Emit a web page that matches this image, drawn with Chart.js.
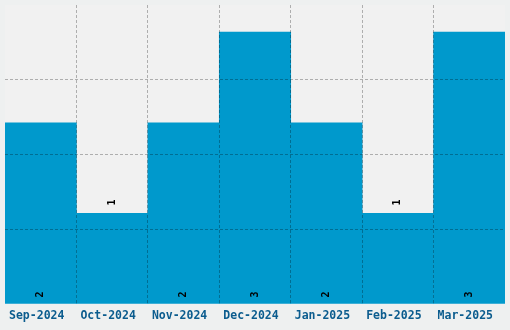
<!DOCTYPE html>
<html><head><meta charset="utf-8">
<script src="https://cdn.jsdelivr.net/npm/chart.js@4"></script>
<style>html,body{margin:0;padding:0;background:#eef0f0;}#wrap{width:510px;height:330px;}</style>
</head><body><div id="wrap"><canvas id="c" width="510" height="330"></canvas></div>
<script>
const categories = ["Sep-2024","Oct-2024","Nov-2024","Dec-2024","Jan-2025","Feb-2025","Mar-2025"];
const values = [2,1,2,3,2,1,3];
const yMax = 3.3;
const yTickCount = 5;

const areaBg = {
  id:'areaBg',
  beforeDraw(chart){
    const {ctx, chartArea:a} = chart;
    ctx.save(); ctx.fillStyle='#f1f1f1';
    ctx.fillRect(a.left,a.top,a.right-a.left,a.bottom-a.top); ctx.restore();
  }
};
const valueLabels = {
  id:'valueLabels',
  afterDraw(chart){
    const ctx = chart.ctx; const meta = chart.getDatasetMeta(0);
    ctx.save();
    ctx.font = 'bold 10px "DejaVu Sans Mono", monospace';
    ctx.fillStyle = '#000';
    ctx.textAlign='center'; ctx.textBaseline='middle';
    meta.data.forEach((bar,i)=>{
      const v = values[i];
      const y = v <= 1 ? bar.y - 11 : bar.base - 9;
      ctx.save(); ctx.translate(bar.x, y); ctx.rotate(-Math.PI/2);
      ctx.fillText(String(v),0,0); ctx.restore();
    });
    ctx.restore();
  }
};
const gridCol = 'rgba(0,0,0,0.28)';
const clear = 'rgba(0,0,0,0)';

new Chart(document.getElementById('c'), {
  type:'bar',
  data:{labels:categories, datasets:[{data:values, backgroundColor:'#0099cc', borderWidth:0, barPercentage:1, categoryPercentage:1}]},
  plugins:[areaBg, valueLabels],
  options:{
    responsive:false, animation:false,
    layout:{padding:{left:5,right:5,top:5,bottom:0}},
    plugins:{legend:{display:false}, tooltip:{enabled:false}},
    scales:{
      x:{
        grid:{offset:true, drawTicks:false, z:1,
          color:(c)=> (c.index === undefined || c.index===0) ? clear : gridCol},
        border:{display:false, dash:[3,2]},
        ticks:{color:'#0b5c8e', font:{family:'"DejaVu Sans Mono", monospace', size:11.5, weight:'bold'}, padding:5, maxRotation:0, labelOffset:-4},
        afterFit(s){ s.height = 26; }
      },
      y:{
        min:0, max:yMax,
        afterBuildTicks(s){ s.ticks = Array.from({length:yTickCount},(_,i)=>({value: yMax*i/(yTickCount-1)})); },
        grid:{drawTicks:false, z:1,
          color:(c)=> (c.index === undefined || c.index===0 || c.index===yTickCount-1) ? clear : gridCol},
        border:{display:false, dash:[3,2]},
        ticks:{display:false},
        afterFit(s){ s.width = 0; }
      }
    }
  }
});
</script></body></html>
